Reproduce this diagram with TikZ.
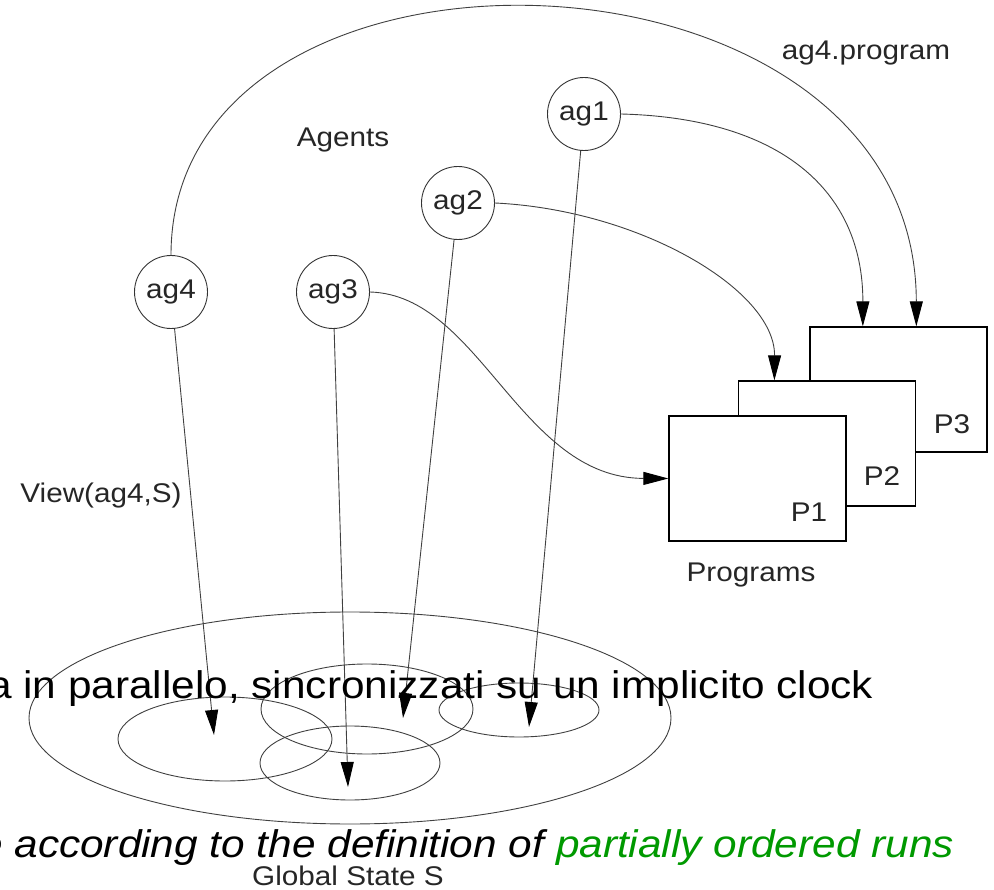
\documentclass[tikz,border=0pt]{standalone}
\usepackage{fontspec}
\setmainfont{Liberation Sans}[FakeStretch=1.1]
\usetikzlibrary{arrows.meta,calc}
\definecolor{rungreen}{RGB}{0,153,0}
\tikzset{
	agent/.style={circle,draw=black!80,line width=0.9pt,minimum size=73pt,inner sep=0pt,text=black!85,font=\fontsize{27}{30}\selectfont},
	prog/.style={rectangle,draw,line width=1.3pt,fill=white,minimum width=177pt,minimum height=125pt},
	lbl/.style={text=black!85,inner sep=0pt,font=\fontsize{27}{30}\selectfont},
	big/.style={inner sep=0pt,anchor=base west,font=\fontsize{38.5}{44}\selectfont},
	flow/.style={draw=black!75,line width=0.9pt,-{Triangle[length=25pt,width=13pt,color=black]}},
	state/.style={draw=black!75,line width=0.9pt}
}
\begin{document}
\begin{tikzpicture}[x=1pt,y=-1pt]
	\path[use as bounding box](0,0)rectangle(994,890);
	\clip(0,0)rectangle(994,890);
	% global state
	\draw[state](350,718)ellipse[x radius=321,y radius=106];
	\draw[state](225,739)ellipse[x radius=107,y radius=42];
	\draw[state](367,709)ellipse[x radius=106,y radius=45];
	\draw[state](519,710)ellipse[x radius=80,y radius=27];
	\draw[state](350,763)ellipse[x radius=90,y radius=37];
	\coordinate(t4)at(214,735);
	\coordinate(t3)at(348,787);
	\coordinate(t2)at(403,718);
	\coordinate(t1)at(529,727);
	% agents
	\node[agent](ag1)at(584,114){ag1};
	\node[agent](ag2)at(458,203){ag2};
	\node[agent](ag3)at(333,292){ag3};
	\node[agent](ag4)at(171,292){ag4};
	\node[lbl](agents)at(343,140){Agents};
	% programs
	\node[prog](p3)at(898.5,389.5){};
	\node[prog](p2)at(827,443.5){};
	\node[prog](p1)at(757.5,478.5){};
	\node[lbl](l3)at(952,424){P3};
	\node[lbl](l2)at(882,476){P2};
	\node[lbl](l1)at(809,512){P1};
	\node[lbl](programs)at(751,575){Programs};
	\node[lbl](view)at(101,496){View(ag4,S)};
	\node[lbl](prg)at(866,53){ag4.program};
	\node[lbl,anchor=base](gs)at(348,885){Global State S};
	% connectors
	\draw[flow](ag1.east)..controls(780,118)and(863,190)..($(p3.north west)!0.3!(p3.north east)$);
	\draw[flow](ag2.east)..controls(640,210)and(775,290)..($(p2.north west)!0.205!(p2.north east)$);
	\draw[flow](ag3.east)..controls(480,295)and(520,478)..(p1.west);
	\draw[flow](ag4.north)..controls(171,-95)and(916,-75)..($(p3.north west)!0.6!(p3.north east)$);
	\draw[flow](ag4)--(t4);
	\draw[flow](ag3)--(t3);
	\draw[flow](ag2)--(t2);
	\draw[flow](ag1)--(t1);
	% overlay text
	\node[big](line1)at(-12,698){a in parallelo, sincronizzati su un implicito clock};
	\node[big](line2)at(-21,857){\itshape e according to the definition of \textcolor{rungreen}{partially ordered runs}};
\end{tikzpicture}
\end{document}
